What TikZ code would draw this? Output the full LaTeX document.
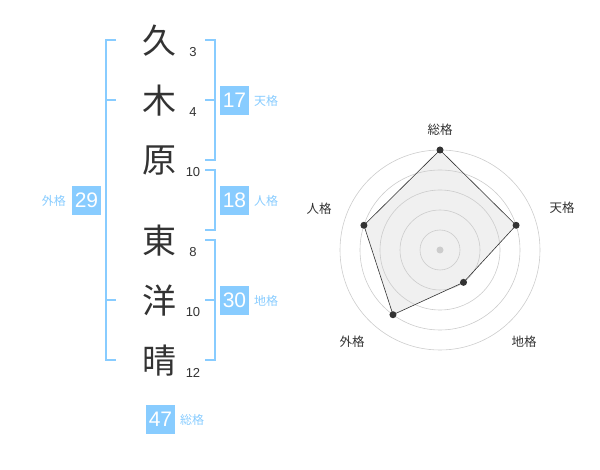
\documentclass[tikz,border=0pt]{standalone}
\usepackage{fontspec}
\setmainfont{Liberation Sans}
\newfontfamily\jp{Noto Sans CJK JP}
\usetikzlibrary{calc}
\definecolor{boxblue}{HTML}{88CCFF}
\definecolor{ink}{HTML}{333333}
\definecolor{ring}{HTML}{CCCCCC}
\definecolor{polyfill}{HTML}{F0F0F0}
\tikzset{
  kanji/.style={font=\jp\fontsize{34}{34}\selectfont, text=ink, inner sep=0pt},
  strokes/.style={font=\fontsize{13}{13}\selectfont, text=ink, inner sep=0pt},
  valbox/.style={fill=boxblue, text=white, font=\fontsize{21}{21}\selectfont, minimum width=29pt, minimum height=29pt, inner sep=0pt},
  vallabel/.style={font=\jp\fontsize{12}{12}\selectfont, text=boxblue, inner sep=0pt},
  bracket/.style={draw=boxblue, line width=1.6pt},
  axislabel/.style={font=\jp\fontsize{12.5}{12.5}\selectfont, text=ink, inner sep=0pt},
  ringline/.style={draw=ring, line width=0.6pt},
  dot/.style={circle, fill=ink, inner sep=0pt, minimum size=7pt},
}
\begin{document}
\begin{tikzpicture}[x=1pt,y=-1pt]
\useasboundingbox (0,0) rectangle (600,470);
% kanji
\node[kanji] (k1) at (159,41) {久};
\node[kanji] (k2) at (159,101) {木};
\node[kanji] (k3) at (159,161) {原};
\node[kanji] (k4) at (159,241) {東};
\node[kanji] (k5) at (159,301) {洋};
\node[kanji] (k6) at (159,361) {晴};
\node[strokes] (s1) at (193,52.5) {3};
\node[strokes] (s2) at (193,112.5) {4};
\node[strokes] (s3) at (193,172.5) {10};
\node[strokes] (s4) at (193,252.5) {8};
\node[strokes] (s5) at (193,312.5) {10};
\node[strokes] (s6) at (193,372.5) {12};
% brackets
\draw[bracket] (116,40) -- (106,40) -- (106,360) -- (116,360);
\draw[bracket] (106,100) -- (116,100);
\draw[bracket] (106,300) -- (116,300);
\draw[bracket] (205,40) -- (215,40) -- (215,160) -- (205,160);
\draw[bracket] (205,100) -- (215,100);
\draw[bracket] (205,170) -- (215,170) -- (215,230) -- (205,230);
\draw[bracket] (205,240) -- (215,240) -- (215,360) -- (205,360);
\draw[bracket] (205,300) -- (215,300);
% value boxes
\node[valbox] (b17) at (234.5,100.5) {17};
\node[vallabel, anchor=west] (l17) at (254,101) {天格};
\node[valbox] (b18) at (234.5,200.5) {18};
\node[vallabel, anchor=west] (l18) at (254,201) {人格};
\node[valbox] (b30) at (234.5,300.5) {30};
\node[vallabel, anchor=west] (l30) at (254,301) {地格};
\node[valbox] (b29) at (86.5,200.5) {29};
\node[vallabel, anchor=east] (l29) at (66,201) {外格};
\node[valbox] (b47) at (160.5,419) {47};
\node[vallabel, anchor=west] (l47) at (180,420) {総格};
% radar
\coordinate (C) at (440,250);
\coordinate (pS) at ($(C)+(-90:100)$);
\coordinate (pT) at ($(C)+(-18:80)$);
\coordinate (pC) at ($(C)+(54:40)$);
\coordinate (pG) at ($(C)+(126:80)$);
\coordinate (pJ) at ($(C)+(198:80)$);
\fill[polyfill] (pS) -- (pT) -- (pC) -- (pG) -- (pJ) -- cycle;
\foreach \r in {20,40,60,80,100} \draw[ringline] (C) circle[radius=\r];
\fill[ring] (C) circle[radius=3.5];
\draw[ink, line width=0.6pt] (pS) -- (pT) -- (pC) -- (pG) -- (pJ) -- cycle;
\foreach \p in {pS,pT,pC,pG,pJ} \node[dot] at (\p) {};
\node[axislabel] (aS) at (440,130) {総格};
\node[axislabel] (aT) at (562,208) {天格};
\node[axislabel] (aJ) at (319,209) {人格};
\node[axislabel] (aG) at (352,342) {外格};
\node[axislabel] (aC) at (524,342) {地格};
\end{tikzpicture}
\end{document}
